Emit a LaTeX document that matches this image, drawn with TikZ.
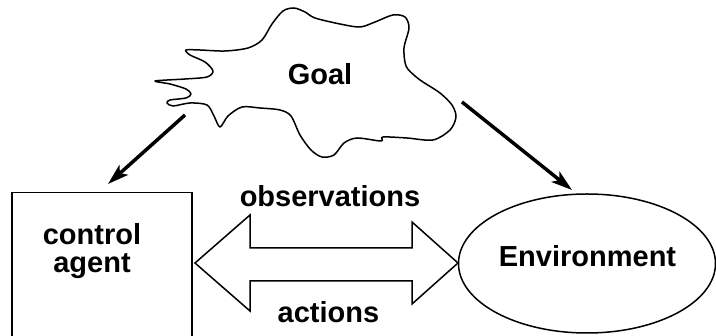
\documentclass[tikz,border=0pt]{standalone}
\usepackage{fontspec}
\setmainfont{Liberation Sans}
\usetikzlibrary{arrows.meta,shapes.geometric}
\begin{document}
\begin{tikzpicture}[x=1pt,y=-1pt,
  lbl/.style={font=\fontsize{29}{28}\selectfont\bfseries, inner sep=0pt, outer sep=0pt},
  outline/.style={line width=1.5pt},
  pointer/.style={line width=3.5pt, -{Stealth[length=21pt,width=13pt,inset=5pt]}}]
\useasboundingbox (0,0) rectangle (716,336);

% the goal cloud
\draw[outline, line join=round] plot[smooth cycle, tension=0.5] coordinates {
  (155,81) (185,79) (207,77) (213,71) (205,62) (190,55) (186,50) (200,50)
  (225,51) (248,48) (262,40) (272,24) (283,11) (294,8) (305,12) (315,18)
  (340,24) (360,27) (375,22) (393,15) (405,17) (409,28) (404,48) (406,66)
  (415,76) (423,82) (440,93) (452,105) (456,117) (450,130) (433,140)
  (407,138) (383,137) (381,141) (357,138) (344,143) (334,155) (322,157)
  (311,150) (300,135) (291,116) (280,110) (260,108) (242,107) (228,116)
  (220,127) (214,116) (207,105) (190,103) (173,106) (167,103) (170,100)
  (186,98) (191,94) (186,89) (170,84)};
\node[lbl, anchor=base] (goal) at (320,84.5) {Goal};

% control agent box
\node[draw, outline, rectangle, inner sep=0pt, minimum width=180pt,
      minimum height=144.5pt, anchor=north west] (agent) at (11,192) {};
\node[lbl, align=center, anchor=north] (agenttext) at (92,223.5) {control\\agent};

% environment ellipse
\node[draw, outline, ellipse, inner sep=0pt, minimum width=257pt,
      minimum height=139pt] (env) at (587,263.5) {};
\node[lbl, anchor=base] (envtext) at (587.5,267) {Environment};

% goal pointers
\coordinate (goalL) at (185,115);
\coordinate (agentIn) at (108,184);
\coordinate (goalR) at (462,102);
\coordinate (envIn) at (572,190);
\draw[pointer] (goalL) -- (agentIn);
\draw[pointer] (goalR) -- (envIn);

% two-way exchange arrow
\draw[outline] (195,263) -- (250,215) -- (250,248) -- (412,248) -- (412,222)
  -- (458,263) -- (412,304) -- (412,281) -- (250,281) -- (250,311) -- cycle;
\node[lbl, anchor=base] (obs) at (330,207) {observations};
\node[lbl, anchor=base] (act) at (328.5,322.5) {actions};
\end{tikzpicture}
\end{document}
